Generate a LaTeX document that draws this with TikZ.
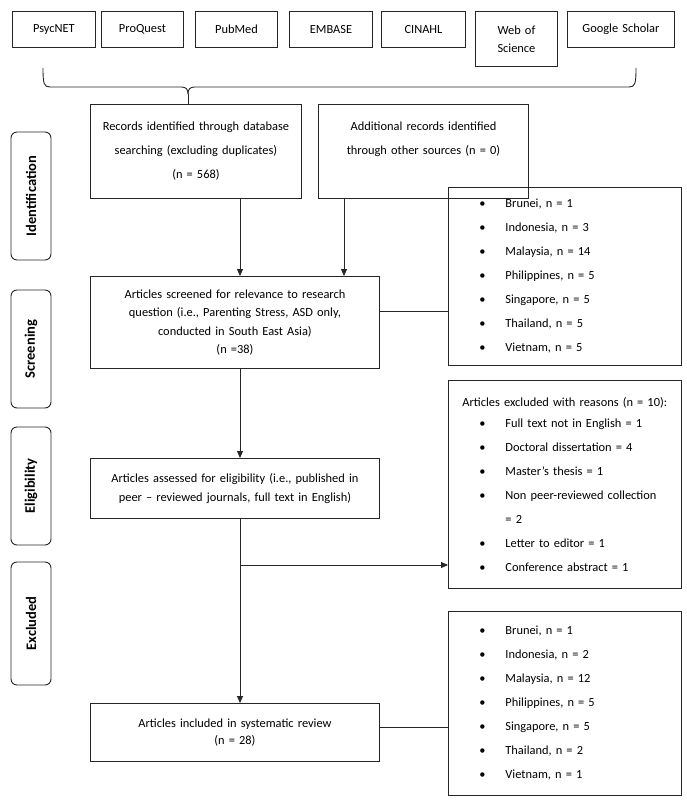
\documentclass[tikz,border=0pt]{standalone}
\usepackage{fontspec}
\setmainfont{Carlito}
\usetikzlibrary{arrows.meta}
\begin{document}
\begin{tikzpicture}[x=1pt,y=-1pt,
  every node/.style={font=\fontsize{12.4}{18}\selectfont, text=black},
  box/.style={draw=black!85, line width=0.9pt, inner sep=0pt, anchor=north west, align=center},
  listbox/.style={draw=black!85, line width=0.9pt, inner sep=0pt, anchor=north west, align=left, text width=233pt, font=\fontsize{12.4}{24}\selectfont},
  phase/.style={draw=black!85, line width=0.9pt, rounded corners=6pt, inner sep=0pt, minimum height=40pt, rotate=90, font=\bfseries\fontsize{14.5}{16}\selectfont},
  line/.style={draw=black!85, line width=0.9pt},
  arr/.style={line, -{Triangle[length=7pt,width=6pt]}},
]
\useasboundingbox (0,0) rectangle (686,802);

% database boxes
\node[box, text width=83pt, minimum height=36pt] (psy) at (12,11) {PsycNET};
\node[box, text width=82pt, minimum height=36pt] (proq) at (101,11) {ProQuest};
\node[box, text width=82pt, minimum height=36pt] (pub) at (195,11) {PubMed};
\node[box, text width=83pt, minimum height=36pt] (emb) at (289,11) {EMBASE};
\node[box, text width=84pt, minimum height=36pt] (cin) at (381,11) {CINAHL};
\node[box, text width=82pt, minimum height=55pt] (wos) at (475,11) {Web of\\Science};
\node[box, text width=107pt, minimum height=36pt] (gs) at (567,11) {Google Scholar};

% main boxes
\node[box, text width=211pt, minimum height=94pt, font=\fontsize{12.4}{24}\selectfont] (rec) at (90,104)
  {Records identified through database\\searching (excluding duplicates)\\(n = 568)};
\node[box, text width=210pt, minimum height=94pt, font=\fontsize{12.4}{24}\selectfont] (add) at (318,104)
  {Additional records identified\\through other sources (n = 0)\\\phantom{(n)}};
\node[box, text width=289pt, minimum height=92pt, font=\fontsize{12.4}{18.5}\selectfont] (scr) at (90,276)
  {Articles screened for relevance to research\\question (i.e., Parenting Stress, ASD only,\\conducted in South East Asia)\\(n =38)};
\node[box, text width=289pt, minimum height=60pt, font=\fontsize{12.4}{19}\selectfont] (elig) at (90,458)
  {Articles assessed for eligibility (i.e., published in\\peer -- reviewed journals, full text in English)};
\node[box, text width=289pt, minimum height=58pt, font=\fontsize{12.4}{17.5}\selectfont] (inc) at (90,703)
  {Articles included in systematic review\\(n = 28)};

% list boxes
\newcommand{\bitem}[1]{\hspace*{31pt}\makebox[26pt][l]{•}#1}
\node[listbox, minimum height=178pt] (b1) at (448,187)
  {\bitem{Brunei, n = 1}\\\bitem{Indonesia, n = 3}\\\bitem{Malaysia, n = 14}\\\bitem{Philippines, n = 5}\\\bitem{Singapore, n = 5}\\\bitem{Thailand, n = 5}\\\bitem{Vietnam, n = 5}};
\node[listbox, minimum height=208pt] (b2) at (448,380)
  {\hspace*{14pt}Articles excluded with reasons (n = 10):\\[-3pt]\bitem{Full text not in English = 1}\\\bitem{Doctoral dissertation = 4}\\\bitem{Master’s thesis = 1}\\\bitem{Non peer-reviewed collection}\\\hspace*{57pt}= 2\\\bitem{Letter to editor = 1}\\\bitem{Conference abstract = 1}};
\node[listbox, minimum height=184pt] (b3) at (448,611)
  {\bitem{Brunei, n = 1}\\\bitem{Indonesia, n = 2}\\\bitem{Malaysia, n = 12}\\\bitem{Philippines, n = 5}\\\bitem{Singapore, n = 5}\\\bitem{Thailand, n = 2}\\\bitem{Vietnam, n = 1}};

% phase labels
\node[phase, minimum width=128pt] (pid) at (31,196) {Identification};
\node[phase, minimum width=118pt] (pscr) at (31,349) {Screening};
\node[phase, minimum width=118pt] (pel) at (31,486) {Eligibility};
\node[phase, minimum width=123pt] (pex) at (31,623.5) {Excluded};

% brace
\coordinate (tip) at (188,94);
\draw[line] (43,68) .. controls (43,84) and (44,87) .. (50,87) -- (181,87) .. controls (186,87) and (188,89) .. (tip);
\draw[line] (tip) .. controls (188,89) and (190,87) .. (195,87) -- (629,87) .. controls (635,87) and (636,84) .. (636,68);
\draw[line] (tip) -- (rec.north -| tip);

% connectors
\coordinate (cx) at (240,0);
\coordinate (ax) at (344,0);
\draw[arr] (rec.south -| cx) -- (scr.north -| cx);
\draw[arr] (add.south -| ax) -- (scr.north -| ax);
\draw[line] (scr.east |- 0,311) -- (b1.west |- 0,311);
\draw[arr] (scr.south -| cx) -- (elig.north -| cx);
\draw[arr] (elig.south -| cx) -- (inc.north -| cx);
\coordinate (br) at (240,565);
\draw[arr] (br) -- (b2.west |- br);
\draw[line] (inc.east |- 0,727) -- (b3.west |- 0,727);
\end{tikzpicture}
\end{document}
